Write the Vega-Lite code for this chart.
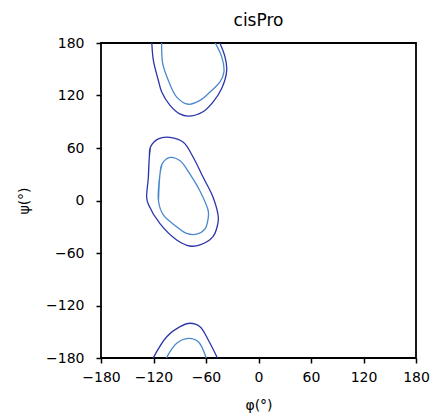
{
  "$schema": "https://vega.github.io/schema/vega-lite/v6.json",
  "autosize": {"type": "none"},
  "padding": {"left": 101, "top": 43, "right": 28, "bottom": 61},
  "width": 315,
  "height": 315,
  "title": {"text": "cisPro", "fontSize": 17, "font": "DejaVu Sans", "fontWeight": "normal", "offset": 6, "color": "black"},
  "config": {
    "view": {"stroke": "black", "strokeWidth": 1.8},
    "font": "DejaVu Sans"
  },
  "data": {"values": [
    {"c": "t_out", "lvl": "outer", "o": 0, "phi": -122.1, "psi": 184},
    {"c": "t_out", "lvl": "outer", "o": 1, "phi": -120.2, "psi": 160.4},
    {"c": "t_out", "lvl": "outer", "o": 2, "phi": -114.5, "psi": 137.4},
    {"c": "t_out", "lvl": "outer", "o": 3, "phi": -110.6, "psi": 124},
    {"c": "t_out", "lvl": "outer", "o": 4, "phi": -101.1, "psi": 108.7},
    {"c": "t_out", "lvl": "outer", "o": 5, "phi": -90, "psi": 99},
    {"c": "t_out", "lvl": "outer", "o": 6, "phi": -80.2, "psi": 96.5},
    {"c": "t_out", "lvl": "outer", "o": 7, "phi": -63.4, "psi": 101.5},
    {"c": "t_out", "lvl": "outer", "o": 8, "phi": -52, "psi": 112.5},
    {"c": "t_out", "lvl": "outer", "o": 9, "phi": -42.1, "psi": 127.9},
    {"c": "t_out", "lvl": "outer", "o": 10, "phi": -36.3, "psi": 149},
    {"c": "t_out", "lvl": "outer", "o": 11, "phi": -38.3, "psi": 164.2},
    {"c": "t_out", "lvl": "outer", "o": 12, "phi": -45.9, "psi": 184},
    {"c": "t_in", "lvl": "inner", "o": 0, "phi": -110.6, "psi": 184},
    {"c": "t_in", "lvl": "inner", "o": 1, "phi": -109.5, "psi": 156.6},
    {"c": "t_in", "lvl": "inner", "o": 2, "phi": -103.1, "psi": 137.4},
    {"c": "t_in", "lvl": "inner", "o": 3, "phi": -93.5, "psi": 118.2},
    {"c": "t_in", "lvl": "inner", "o": 4, "phi": -80.2, "psi": 110},
    {"c": "t_in", "lvl": "inner", "o": 5, "phi": -66.9, "psi": 114.4},
    {"c": "t_in", "lvl": "inner", "o": 6, "phi": -55.4, "psi": 124},
    {"c": "t_in", "lvl": "inner", "o": 7, "phi": -44, "psi": 135.5},
    {"c": "t_in", "lvl": "inner", "o": 8, "phi": -39.5, "psi": 147},
    {"c": "t_in", "lvl": "inner", "o": 9, "phi": -42, "psi": 164.2},
    {"c": "t_in", "lvl": "inner", "o": 10, "phi": -51.7, "psi": 184},
    {"c": "m_out", "lvl": "outer", "o": -1, "phi": -125.9, "psi": 26.2},
    {"c": "m_out", "lvl": "outer", "o": 0, "phi": -124.8, "psi": 49.2},
    {"c": "m_out", "lvl": "outer", "o": 1, "phi": -123.5, "psi": 61},
    {"c": "m_out", "lvl": "outer", "o": 2, "phi": -114.5, "psi": 70.4},
    {"c": "m_out", "lvl": "outer", "o": 3, "phi": -101.1, "psi": 72.2},
    {"c": "m_out", "lvl": "outer", "o": 4, "phi": -85.9, "psi": 66.5},
    {"c": "m_out", "lvl": "outer", "o": 5, "phi": -74.5, "psi": 49.2},
    {"c": "m_out", "lvl": "outer", "o": 6, "phi": -63.1, "psi": 26.2},
    {"c": "m_out", "lvl": "outer", "o": 7, "phi": -51.7, "psi": 3.2},
    {"c": "m_out", "lvl": "outer", "o": 8, "phi": -45.9, "psi": -19.5},
    {"c": "m_out", "lvl": "outer", "o": 9, "phi": -46.8, "psi": -28},
    {"c": "m_out", "lvl": "outer", "o": 10, "phi": -52, "psi": -41.3},
    {"c": "m_out", "lvl": "outer", "o": 11, "phi": -66.9, "psi": -50.8},
    {"c": "m_out", "lvl": "outer", "o": 12, "phi": -78.3, "psi": -52},
    {"c": "m_out", "lvl": "outer", "o": 13, "phi": -93.5, "psi": -45.1},
    {"c": "m_out", "lvl": "outer", "o": 14, "phi": -112.6, "psi": -26.5},
    {"c": "m_out", "lvl": "outer", "o": 15, "phi": -125.9, "psi": -4.4},
    {"c": "m_out", "lvl": "outer", "o": 16, "phi": -127.8, "psi": 3.2},
    {"c": "m_out", "lvl": "outer", "o": 17, "phi": -125.9, "psi": 26.2},
    {"c": "m_out", "lvl": "outer", "o": 18, "phi": -124.8, "psi": 49.2},
    {"c": "m_out", "lvl": "outer", "o": 19, "phi": -123.5, "psi": 61},
    {"c": "m_in", "lvl": "inner", "o": -1, "phi": -114.3, "psi": -0.6},
    {"c": "m_in", "lvl": "inner", "o": 0, "phi": -112.6, "psi": 30.1},
    {"c": "m_in", "lvl": "inner", "o": 1, "phi": -110.3, "psi": 41.6},
    {"c": "m_in", "lvl": "inner", "o": 2, "phi": -101.1, "psi": 49.2},
    {"c": "m_in", "lvl": "inner", "o": 3, "phi": -89.7, "psi": 45.4},
    {"c": "m_in", "lvl": "inner", "o": 4, "phi": -78.3, "psi": 30.1},
    {"c": "m_in", "lvl": "inner", "o": 5, "phi": -66.9, "psi": 10.9},
    {"c": "m_in", "lvl": "inner", "o": 6, "phi": -57.4, "psi": -12},
    {"c": "m_in", "lvl": "inner", "o": 7, "phi": -57.4, "psi": -19.5},
    {"c": "m_in", "lvl": "inner", "o": 8, "phi": -61.1, "psi": -32.5},
    {"c": "m_in", "lvl": "inner", "o": 9, "phi": -70.6, "psi": -38.5},
    {"c": "m_in", "lvl": "inner", "o": 10, "phi": -82.1, "psi": -37.7},
    {"c": "m_in", "lvl": "inner", "o": 11, "phi": -95.4, "psi": -28.5},
    {"c": "m_in", "lvl": "inner", "o": 12, "phi": -108.8, "psi": -16.5},
    {"c": "m_in", "lvl": "inner", "o": 13, "phi": -114.3, "psi": -0.6},
    {"c": "m_in", "lvl": "inner", "o": 14, "phi": -112.6, "psi": 30.1},
    {"c": "m_in", "lvl": "inner", "o": 15, "phi": -110.3, "psi": 41.6},
    {"c": "b_out", "lvl": "outer", "o": 0, "phi": -122.5, "psi": -184},
    {"c": "b_out", "lvl": "outer", "o": 1, "phi": -104.9, "psi": -155.7},
    {"c": "b_out", "lvl": "outer", "o": 2, "phi": -89.7, "psi": -144.2},
    {"c": "b_out", "lvl": "outer", "o": 3, "phi": -78.3, "psi": -140.3},
    {"c": "b_out", "lvl": "outer", "o": 4, "phi": -66.9, "psi": -144.2},
    {"c": "b_out", "lvl": "outer", "o": 5, "phi": -57.4, "psi": -159.4},
    {"c": "b_out", "lvl": "outer", "o": 6, "phi": -45, "psi": -184},
    {"c": "b_in", "lvl": "inner", "o": 0, "phi": -107.5, "psi": -184},
    {"c": "b_in", "lvl": "inner", "o": 1, "phi": -93.5, "psi": -163.2},
    {"c": "b_in", "lvl": "inner", "o": 2, "phi": -80.2, "psi": -157.5},
    {"c": "b_in", "lvl": "inner", "o": 3, "phi": -68.8, "psi": -161.4},
    {"c": "b_in", "lvl": "inner", "o": 4, "phi": -58.5, "psi": -184}
  ]},
  "mark": {"type": "line", "clip": true, "strokeWidth": 1.3, "interpolate": "catmull-rom"},
  "encoding": {
    "x": {"field": "phi", "type": "quantitative",
      "scale": {"domain": [-180, 180], "nice": false, "zero": false},
      "axis": {"title": "φ(°)", "values": [-180, -120, -60, 0, 60, 120, 180], "labelExpr": "replace(datum.label, '-', '−')",
        "labelOverlap": false, "labelFlush": false, "labelBound": false,
        "grid": false, "domain": false, "tickColor": "black", "tickSize": 5, "tickWidth": 1.5, "labelColor": "black", "labelFontSize": 14, "labelFont": "DejaVu Sans", "labelPadding": 7,
        "titleFontSize": 14, "titleFont": "DejaVu Sans", "titleFontWeight": "normal", "titleColor": "black", "titlePadding": 14}},
    "y": {"field": "psi", "type": "quantitative",
      "scale": {"domain": [-180, 180], "nice": false, "zero": false},
      "axis": {"title": "ψ(°)", "values": [-180, -120, -60, 0, 60, 120, 180], "labelExpr": "replace(datum.label, '-', '−')",
        "labelOverlap": false, "labelFlush": false, "labelBound": false,
        "grid": false, "domain": false, "tickColor": "black", "tickSize": 5, "tickWidth": 1.5, "labelColor": "black", "labelFontSize": 14, "labelFont": "DejaVu Sans", "labelPadding": 12,
        "titleFontSize": 14, "titleFont": "DejaVu Sans", "titleFontWeight": "normal", "titleColor": "black", "titlePadding": 14}},
    "color": {"field": "lvl", "type": "nominal", "scale": {"domain": ["outer", "inner"], "range": ["#2a36aa", "#4a88cc"]}, "legend": null},
    "detail": {"field": "c"},
    "order": {"field": "o", "type": "quantitative"}
  }
}
